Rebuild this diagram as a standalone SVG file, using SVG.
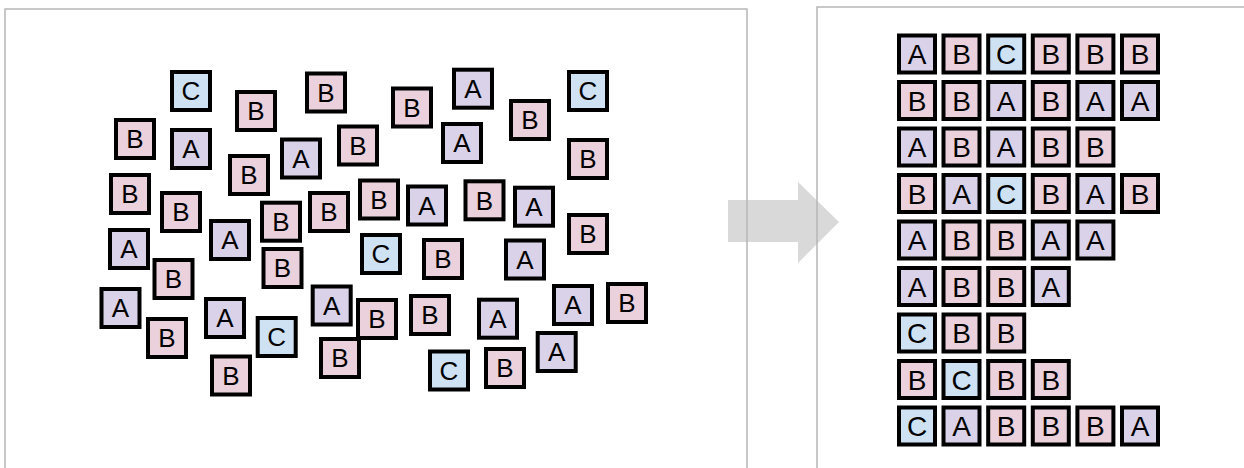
<svg xmlns="http://www.w3.org/2000/svg" width="1244" height="468" viewBox="0 0 1244 468">
<style>
.a{fill:#d9d2e9}.b{fill:#ead1dc}.c{fill:#cfe2f3}
.L rect{stroke:#000;stroke-width:4}
.G rect{stroke:#000;stroke-width:4}
text{font-family:"Liberation Sans",Arial,sans-serif;text-anchor:middle;fill:#000}
.L text{font-size:26px}
.G text{font-size:28px}
.panel{fill:none;stroke:#b7b7b7;stroke-width:1.5}
</style>
<rect width="1244" height="468" fill="#fff"/>
<polygon id="arrow" points="728,200 798,200 798,182 839,222 798,263 798,242 728,242" fill="#d9d9d9"/>
<g id="panels">
<path class="panel" d="M5,470 V9 H747 V470"/>
<path class="panel" d="M817,470 V7 H1246"/>
</g>
<g id="left" class="L">
<g id="l1" transform="translate(191,91)"><rect class="c" x="-19" y="-19" width="38" height="38"/><text y="9.3">C</text></g>
<g id="l2" transform="translate(256,111)"><rect class="b" x="-19" y="-19" width="38" height="38"/><text y="9.3">B</text></g>
<g id="l3" transform="translate(326,92.5)"><rect class="b" x="-19" y="-19" width="38" height="38"/><text y="9.3">B</text></g>
<g id="l4" transform="translate(412,107.5)"><rect class="b" x="-19" y="-19" width="38" height="38"/><text y="9.3">B</text></g>
<g id="l5" transform="translate(473,88.7)"><rect class="a" x="-19" y="-19" width="38" height="38"/><text y="9.3">A</text></g>
<g id="l6" transform="translate(530,120)"><rect class="b" x="-19" y="-19" width="38" height="38"/><text y="9.3">B</text></g>
<g id="l7" transform="translate(588,91)"><rect class="c" x="-19" y="-19" width="38" height="38"/><text y="9.3">C</text></g>
<g id="l8" transform="translate(135,139)"><rect class="b" x="-19" y="-19" width="38" height="38"/><text y="9.3">B</text></g>
<g id="l9" transform="translate(191,149)"><rect class="a" x="-19" y="-19" width="38" height="38"/><text y="9.3">A</text></g>
<g id="l10" transform="translate(249,175)"><rect class="b" x="-19" y="-19" width="38" height="38"/><text y="9.3">B</text></g>
<g id="l11" transform="translate(301,158.5)"><rect class="a" x="-19" y="-19" width="38" height="38"/><text y="9.3">A</text></g>
<g id="l12" transform="translate(358,145.5)"><rect class="b" x="-19" y="-19" width="38" height="38"/><text y="9.3">B</text></g>
<g id="l13" transform="translate(462,143)"><rect class="a" x="-19" y="-19" width="38" height="38"/><text y="9.3">A</text></g>
<g id="l14" transform="translate(588,159)"><rect class="b" x="-19" y="-19" width="38" height="38"/><text y="9.3">B</text></g>
<g id="l15" transform="translate(130,194)"><rect class="b" x="-19" y="-19" width="38" height="38"/><text y="9.3">B</text></g>
<g id="l16" transform="translate(181,212)"><rect class="b" x="-19" y="-19" width="38" height="38"/><text y="9.3">B</text></g>
<g id="l17" transform="translate(230,240)"><rect class="a" x="-19" y="-19" width="38" height="38"/><text y="9.3">A</text></g>
<g id="l18" transform="translate(281,221.7)"><rect class="b" x="-19" y="-19" width="38" height="38"/><text y="9.3">B</text></g>
<g id="l19" transform="translate(329,212)"><rect class="b" x="-19" y="-19" width="38" height="38"/><text y="9.3">B</text></g>
<g id="l20" transform="translate(379,199.5)"><rect class="b" x="-19" y="-19" width="38" height="38"/><text y="9.3">B</text></g>
<g id="l21" transform="translate(427,205.5)"><rect class="a" x="-19" y="-19" width="38" height="38"/><text y="9.3">A</text></g>
<g id="l22" transform="translate(484.5,200.3)"><rect class="b" x="-19" y="-19" width="38" height="38"/><text y="9.3">B</text></g>
<g id="l23" transform="translate(534,206.7)"><rect class="a" x="-19" y="-19" width="38" height="38"/><text y="9.3">A</text></g>
<g id="l24" transform="translate(588,234)"><rect class="b" x="-19" y="-19" width="38" height="38"/><text y="9.3">B</text></g>
<g id="l25" transform="translate(129,249)"><rect class="a" x="-19" y="-19" width="38" height="38"/><text y="9.3">A</text></g>
<g id="l26" transform="translate(173.5,279)"><rect class="b" x="-19" y="-19" width="38" height="38"/><text y="9.3">B</text></g>
<g id="l27" transform="translate(282.5,268)"><rect class="b" x="-19" y="-19" width="38" height="38"/><text y="9.3">B</text></g>
<g id="l28" transform="translate(381,254)"><rect class="c" x="-19" y="-19" width="38" height="38"/><text y="9.3">C</text></g>
<g id="l29" transform="translate(443,259)"><rect class="b" x="-19" y="-19" width="38" height="38"/><text y="9.3">B</text></g>
<g id="l30" transform="translate(525,259.5)"><rect class="a" x="-19" y="-19" width="38" height="38"/><text y="9.3">A</text></g>
<g id="l31" transform="translate(120.5,308)"><rect class="a" x="-19" y="-19" width="38" height="38"/><text y="9.3">A</text></g>
<g id="l32" transform="translate(167,338)"><rect class="b" x="-19" y="-19" width="38" height="38"/><text y="9.3">B</text></g>
<g id="l33" transform="translate(225,318)"><rect class="a" x="-19" y="-19" width="38" height="38"/><text y="9.3">A</text></g>
<g id="l34" transform="translate(276.7,337)"><rect class="c" x="-19" y="-19" width="38" height="38"/><text y="9.3">C</text></g>
<g id="l35" transform="translate(331.7,305.5)"><rect class="a" x="-19" y="-19" width="38" height="38"/><text y="9.3">A</text></g>
<g id="l36" transform="translate(377,319)"><rect class="b" x="-19" y="-19" width="38" height="38"/><text y="9.3">B</text></g>
<g id="l37" transform="translate(430,315)"><rect class="b" x="-19" y="-19" width="38" height="38"/><text y="9.3">B</text></g>
<g id="l38" transform="translate(498,318.7)"><rect class="a" x="-19" y="-19" width="38" height="38"/><text y="9.3">A</text></g>
<g id="l39" transform="translate(573,305)"><rect class="a" x="-19" y="-19" width="38" height="38"/><text y="9.3">A</text></g>
<g id="l40" transform="translate(627,303)"><rect class="b" x="-19" y="-19" width="38" height="38"/><text y="9.3">B</text></g>
<g id="l41" transform="translate(231,375.5)"><rect class="b" x="-19" y="-19" width="38" height="38"/><text y="9.3">B</text></g>
<g id="l42" transform="translate(340,358)"><rect class="b" x="-19" y="-19" width="38" height="38"/><text y="9.3">B</text></g>
<g id="l43" transform="translate(449,370.5)"><rect class="c" x="-19" y="-19" width="38" height="38"/><text y="9.3">C</text></g>
<g id="l44" transform="translate(505,368)"><rect class="b" x="-19" y="-19" width="38" height="38"/><text y="9.3">B</text></g>
<g id="l45" transform="translate(556.7,352)"><rect class="a" x="-19" y="-19" width="38" height="38"/><text y="9.3">A</text></g>
</g>
<g id="grid" class="G">
<g id="r1">
<g transform="translate(917,54)"><rect class="a" x="-18" y="-18.5" width="36" height="37"/><text y="10">A</text></g>
<g transform="translate(961.5,54)"><rect class="b" x="-18" y="-18.5" width="36" height="37"/><text y="10">B</text></g>
<g transform="translate(1006.2,54)"><rect class="c" x="-18" y="-18.5" width="36" height="37"/><text y="10">C</text></g>
<g transform="translate(1050.8,54)"><rect class="b" x="-18" y="-18.5" width="36" height="37"/><text y="10">B</text></g>
<g transform="translate(1095.4,54)"><rect class="b" x="-18" y="-18.5" width="36" height="37"/><text y="10">B</text></g>
<g transform="translate(1140,54)"><rect class="b" x="-18" y="-18.5" width="36" height="37"/><text y="10">B</text></g>
</g>
<g id="r2">
<g transform="translate(917,100.5)"><rect class="b" x="-18" y="-18.5" width="36" height="37"/><text y="10">B</text></g>
<g transform="translate(961.5,100.5)"><rect class="b" x="-18" y="-18.5" width="36" height="37"/><text y="10">B</text></g>
<g transform="translate(1006.2,100.5)"><rect class="a" x="-18" y="-18.5" width="36" height="37"/><text y="10">A</text></g>
<g transform="translate(1050.8,100.5)"><rect class="b" x="-18" y="-18.5" width="36" height="37"/><text y="10">B</text></g>
<g transform="translate(1095.4,100.5)"><rect class="a" x="-18" y="-18.5" width="36" height="37"/><text y="10">A</text></g>
<g transform="translate(1140,100.5)"><rect class="a" x="-18" y="-18.5" width="36" height="37"/><text y="10">A</text></g>
</g>
<g id="r3">
<g transform="translate(917,147)"><rect class="a" x="-18" y="-18.5" width="36" height="37"/><text y="10">A</text></g>
<g transform="translate(961.5,147)"><rect class="b" x="-18" y="-18.5" width="36" height="37"/><text y="10">B</text></g>
<g transform="translate(1006.2,147)"><rect class="a" x="-18" y="-18.5" width="36" height="37"/><text y="10">A</text></g>
<g transform="translate(1050.8,147)"><rect class="b" x="-18" y="-18.5" width="36" height="37"/><text y="10">B</text></g>
<g transform="translate(1095.4,147)"><rect class="b" x="-18" y="-18.5" width="36" height="37"/><text y="10">B</text></g>
</g>
<g id="r4">
<g transform="translate(917,193.5)"><rect class="b" x="-18" y="-18.5" width="36" height="37"/><text y="10">B</text></g>
<g transform="translate(961.5,193.5)"><rect class="a" x="-18" y="-18.5" width="36" height="37"/><text y="10">A</text></g>
<g transform="translate(1006.2,193.5)"><rect class="c" x="-18" y="-18.5" width="36" height="37"/><text y="10">C</text></g>
<g transform="translate(1050.8,193.5)"><rect class="b" x="-18" y="-18.5" width="36" height="37"/><text y="10">B</text></g>
<g transform="translate(1095.4,193.5)"><rect class="a" x="-18" y="-18.5" width="36" height="37"/><text y="10">A</text></g>
<g transform="translate(1140,193.5)"><rect class="b" x="-18" y="-18.5" width="36" height="37"/><text y="10">B</text></g>
</g>
<g id="r5">
<g transform="translate(917,240)"><rect class="a" x="-18" y="-18.5" width="36" height="37"/><text y="10">A</text></g>
<g transform="translate(961.5,240)"><rect class="b" x="-18" y="-18.5" width="36" height="37"/><text y="10">B</text></g>
<g transform="translate(1006.2,240)"><rect class="b" x="-18" y="-18.5" width="36" height="37"/><text y="10">B</text></g>
<g transform="translate(1050.8,240)"><rect class="a" x="-18" y="-18.5" width="36" height="37"/><text y="10">A</text></g>
<g transform="translate(1095.4,240)"><rect class="a" x="-18" y="-18.5" width="36" height="37"/><text y="10">A</text></g>
</g>
<g id="r6">
<g transform="translate(917,286.5)"><rect class="a" x="-18" y="-18.5" width="36" height="37"/><text y="10">A</text></g>
<g transform="translate(961.5,286.5)"><rect class="b" x="-18" y="-18.5" width="36" height="37"/><text y="10">B</text></g>
<g transform="translate(1006.2,286.5)"><rect class="b" x="-18" y="-18.5" width="36" height="37"/><text y="10">B</text></g>
<g transform="translate(1050.8,286.5)"><rect class="a" x="-18" y="-18.5" width="36" height="37"/><text y="10">A</text></g>
</g>
<g id="r7">
<g transform="translate(917,333)"><rect class="c" x="-18" y="-18.5" width="36" height="37"/><text y="10">C</text></g>
<g transform="translate(961.5,333)"><rect class="b" x="-18" y="-18.5" width="36" height="37"/><text y="10">B</text></g>
<g transform="translate(1006.2,333)"><rect class="b" x="-18" y="-18.5" width="36" height="37"/><text y="10">B</text></g>
</g>
<g id="r8">
<g transform="translate(917,379.5)"><rect class="b" x="-18" y="-18.5" width="36" height="37"/><text y="10">B</text></g>
<g transform="translate(961.5,379.5)"><rect class="c" x="-18" y="-18.5" width="36" height="37"/><text y="10">C</text></g>
<g transform="translate(1006.2,379.5)"><rect class="b" x="-18" y="-18.5" width="36" height="37"/><text y="10">B</text></g>
<g transform="translate(1050.8,379.5)"><rect class="b" x="-18" y="-18.5" width="36" height="37"/><text y="10">B</text></g>
</g>
<g id="r9">
<g transform="translate(917,426)"><rect class="c" x="-18" y="-18.5" width="36" height="37"/><text y="10">C</text></g>
<g transform="translate(961.5,426)"><rect class="a" x="-18" y="-18.5" width="36" height="37"/><text y="10">A</text></g>
<g transform="translate(1006.2,426)"><rect class="b" x="-18" y="-18.5" width="36" height="37"/><text y="10">B</text></g>
<g transform="translate(1050.8,426)"><rect class="b" x="-18" y="-18.5" width="36" height="37"/><text y="10">B</text></g>
<g transform="translate(1095.4,426)"><rect class="b" x="-18" y="-18.5" width="36" height="37"/><text y="10">B</text></g>
<g transform="translate(1140,426)"><rect class="a" x="-18" y="-18.5" width="36" height="37"/><text y="10">A</text></g>
</g>
</g>
</svg>
